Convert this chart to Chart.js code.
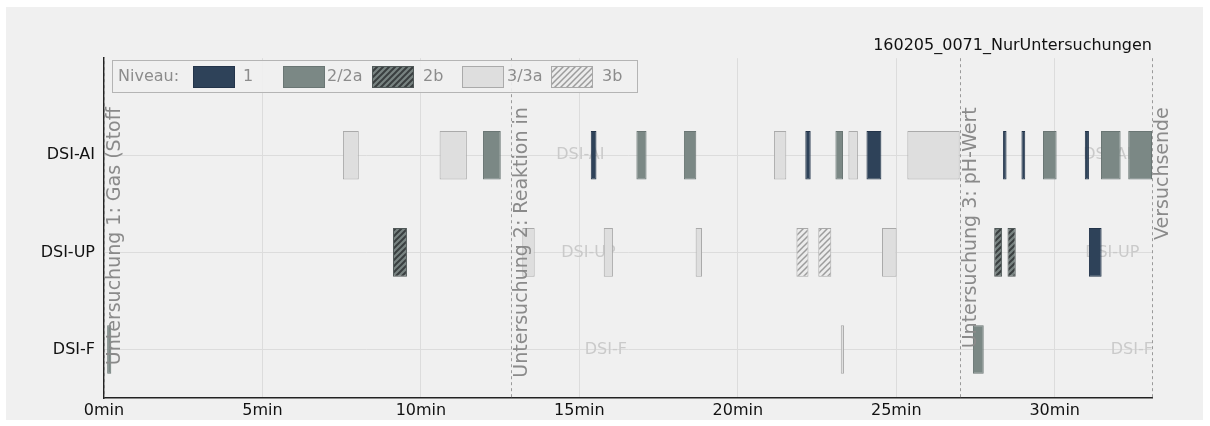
<!DOCTYPE html>
<html>
<head>
<meta charset="utf-8">
<script src="https://cdn.jsdelivr.net/npm/chart.js@4.4.1/dist/chart.umd.min.js"></script>
<style>
  html, body { margin: 0; padding: 0; background: #ffffff; }
  canvas { display: block; }
</style>
</head>
<body>
<canvas id="chart" width="1210" height="426"></canvas>
<script>
// Rows (sensors) from top to bottom
const rows = ['DSI-AI', 'DSI-UP', 'DSI-F'];
// Time axis, minutes
const xTicks = [0, 5, 10, 15, 20, 25, 30];
const xMax = 33.07;
const chartTitle = '160205_0071_NurUntersuchungen';

// Niveau categories
const levels = ['1', '2/2a', '2b', '3/3a', '3b'];

// Examination intervals per level: [row, start (min), end (min)]
const niveau1 = [
  ['DSI-AI', 15.36, 15.54], ['DSI-AI', 22.13, 22.30], ['DSI-AI', 24.06, 24.53],
  ['DSI-AI', 28.37, 28.48], ['DSI-AI', 28.95, 29.07], ['DSI-AI', 30.95, 31.08],
  ['DSI-UP', 31.08, 31.48]
];
const niveau2 = [
  ['DSI-AI', 11.96, 12.52], ['DSI-AI', 16.80, 17.12], ['DSI-AI', 18.30, 18.69],
  ['DSI-AI', 23.08, 23.32], ['DSI-AI', 29.63, 30.06], ['DSI-AI', 31.46, 32.08],
  ['DSI-AI', 32.32, 33.07],
  ['DSI-F', 0.10, 0.23], ['DSI-F', 27.42, 27.76]
];
const niveau2b = [
  ['DSI-UP', 9.12, 9.56], ['DSI-UP', 28.09, 28.34], ['DSI-UP', 28.51, 28.77]
];
const niveau3 = [
  ['DSI-AI', 7.54, 8.04], ['DSI-AI', 10.59, 11.45], ['DSI-AI', 21.14, 21.53],
  ['DSI-AI', 23.49, 23.79], ['DSI-AI', 25.35, 27.00],
  ['DSI-UP', 13.20, 13.59], ['DSI-UP', 15.77, 16.06], ['DSI-UP', 18.67, 18.87],
  ['DSI-UP', 24.55, 25.01],
  ['DSI-F', 23.25, 23.35]
];
const niveau3b = [
  ['DSI-UP', 21.85, 22.23], ['DSI-UP', 22.54, 22.95]
];

// Events marked by dashed vertical lines
const eventTimes = [0, 12.85, 27.0, 33.07];
const eventLabels = [
  'Untersuchung 1: Gas (Stoff',
  'Untersuchung 2: Reaktion in',
  'Untersuchung 3: pH-Wert',
  'Versuchsende'
];

const FONT = 'DejaVu Sans';
const rowValue = name => rows.length - 1 - rows.indexOf(name);

function hatch(bg, fg, lw) {
  const s = 6;
  const c = document.createElement('canvas');
  c.width = s; c.height = s;
  const g = c.getContext('2d');
  g.fillStyle = bg;
  g.fillRect(0, 0, s, s);
  g.strokeStyle = fg;
  g.lineWidth = lw;
  g.beginPath();
  g.moveTo(-1, s + 1); g.lineTo(s + 1, -1);
  g.moveTo(-s / 2 - 1, s / 2 + 1); g.lineTo(s / 2 + 1, -s / 2 - 1);
  g.moveTo(s / 2 - 1, s * 1.5 + 1); g.lineTo(s * 1.5 + 1, s / 2 - 1);
  g.stroke();
  return g.createPattern(c, 'repeat');
}

const styles = [
  { fill: '#2e4259', border: '#23344a' },
  { fill: '#7b8885', border: '#6a7674' },
  { fill: hatch('#788381', '#3a3f40', 2), border: '#505858' },
  { fill: '#dedede', border: '#aaaaaa' },
  { fill: hatch('#ececec', '#9c9c9c', 1.5), border: '#a8a8a8' }
];
const levelData = [niveau1, niveau2, niveau2b, niveau3, niveau3b];

const datasets = levels.map((lvl, i) => ({
  label: lvl,
  data: levelData[i].map(([r, a, b]) => ({ x: [a, b], y: rowValue(r) })),
  backgroundColor: styles[i].fill,
  borderColor: styles[i].border,
  borderWidth: 1,
  borderSkipped: false,
  grouped: false,
  barPercentage: 0.5,
  categoryPercentage: 1
}));

// Faint row names repeated inside the plot
const rowTags = [
  ['DSI-AI', 14.27], ['DSI-AI', 30.90],
  ['DSI-UP', 14.43], ['DSI-UP', 30.96],
  ['DSI-F', 15.17], ['DSI-F', 31.77]
];

const decor = {
  id: 'decor',
  beforeDraw(chart) {
    const ctx = chart.ctx;
    ctx.save();
    ctx.fillStyle = '#f0f0f0';
    ctx.fillRect(6, 7, 1197, 413);
    ctx.restore();
  },
  beforeDatasetsDraw(chart) {
    const { ctx, chartArea: a, scales: { x, y } } = chart;
    ctx.save();
    ctx.beginPath();
    ctx.rect(a.left, a.top, a.right - a.left, a.bottom - a.top);
    ctx.clip();
    ctx.font = '16px "' + FONT + '"';
    ctx.fillStyle = '#cacaca';
    ctx.textBaseline = 'middle';
    ctx.textAlign = 'left';
    rowTags.forEach(([r, t]) => {
      ctx.fillText(r, x.getPixelForValue(t), y.getPixelForValue(rowValue(r)));
    });
    ctx.restore();
  },
  afterDatasetsDraw(chart) {
    const { ctx, chartArea: a, scales: { x } } = chart;
    ctx.save();
    eventTimes.forEach((t, i) => {
      const px = Math.round(x.getPixelForValue(t)) + 0.5;
      ctx.strokeStyle = '#9a9a9a';
      ctx.lineWidth = 1;
      ctx.setLineDash([3, 3]);
      ctx.beginPath();
      ctx.moveTo(px, a.top);
      ctx.lineTo(px, a.bottom);
      ctx.stroke();
      ctx.setLineDash([]);
      ctx.save();
      ctx.translate(px + 1, a.top + 49);
      ctx.rotate(-Math.PI / 2);
      ctx.font = '19px "' + FONT + '"';
      ctx.fillStyle = '#8a8a8a';
      ctx.textAlign = 'right';
      ctx.textBaseline = 'top';
      ctx.fillText(eventLabels[i], 0, 0);
      ctx.restore();
    });
    ctx.restore();
  },
  afterDraw(chart) {
    const ctx = chart.ctx;
    ctx.save();
    // legend frame
    ctx.fillStyle = 'rgba(240,240,240,0.9)';
    ctx.fillRect(112, 60, 525, 32);
    ctx.strokeStyle = '#b4b4b4';
    ctx.lineWidth = 1;
    ctx.strokeRect(112.5, 60.5, 525, 32);
    ctx.font = '16px "' + FONT + '"';
    ctx.fillStyle = '#8c8c8c';
    ctx.textBaseline = 'middle';
    ctx.textAlign = 'left';
    ctx.fillText('Niveau:', 118, 77);
    const swatchX = [193, 283, 372, 462, 551];
    const textX = [243, 327, 423, 507, 602];
    chart.data.datasets.forEach((ds, i) => {
      ctx.fillStyle = ds.backgroundColor;
      ctx.fillRect(swatchX[i], 66, 41, 21);
      ctx.strokeStyle = ds.borderColor;
      ctx.strokeRect(swatchX[i] + 0.5, 66.5, 41, 21);
      ctx.fillStyle = '#8c8c8c';
      ctx.fillText(ds.label, textX[i], 77);
    });
    ctx.restore();
  }
};

new Chart(document.getElementById('chart'), {
  type: 'bar',
  data: { datasets },
  options: {
    indexAxis: 'y',
    responsive: false,
    animation: false,
    devicePixelRatio: 1,
    layout: { padding: { left: 0, right: 58, top: 0, bottom: 0 } },
    plugins: {
      legend: { display: false },
      tooltip: { enabled: false },
      title: {
        display: true,
        text: chartTitle,
        align: 'end',
        color: '#111111',
        font: { family: FONT, size: 16, weight: 'normal' },
        padding: { top: 36, bottom: 3 }
      }
    },
    scales: {
      x: {
        type: 'linear',
        min: 0,
        max: xMax,
        offset: false,
        afterBuildTicks: s => { s.ticks = xTicks.map(v => ({ value: v })); },
        afterFit: s => { s.height = 28; },
        ticks: {
          callback: v => v + 'min',
          color: '#111111',
          font: { family: FONT, size: 16 },
          padding: 3,
          maxRotation: 0,
          autoSkip: false
        },
        grid: { color: '#dcdcdc', drawTicks: false, offset: false },
        border: { color: '#222222', width: 1.5 }
      },
      y: {
        type: 'linear',
        min: -0.5,
        max: rows.length,
        offset: false,
        afterBuildTicks: s => {
          s.ticks = rows.map(r => ({ value: rowValue(r) })).sort((p, q) => p.value - q.value);
        },
        afterFit: s => { s.width = 104; },
        ticks: {
          callback: v => rows[rows.length - 1 - v],
          color: '#111111',
          font: { family: FONT, size: 16 },
          padding: 9,
          autoSkip: false
        },
        grid: { color: '#dcdcdc', drawTicks: false, offset: false },
        border: { color: '#222222', width: 1.5 }
      }
    }
  },
  plugins: [decor]
});
</script>
</body>
</html>
